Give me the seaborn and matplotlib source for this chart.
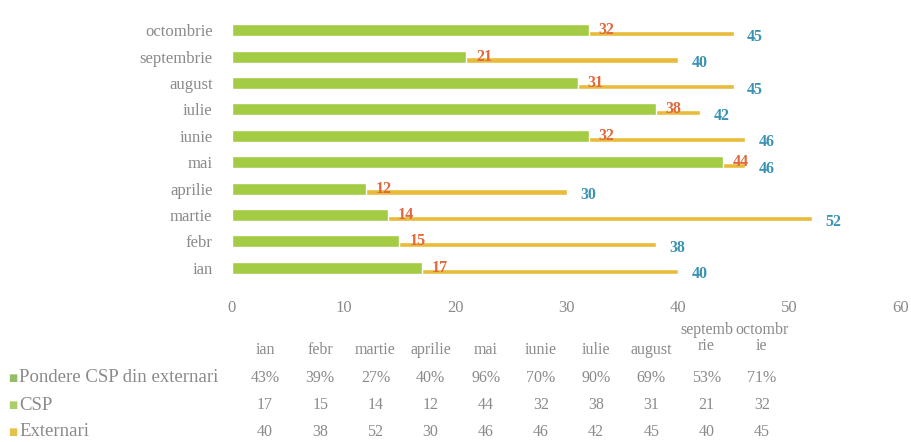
import matplotlib.pyplot as plt
import seaborn as sns
import pandas as pd

# Date
luni = ["ian", "febr", "martie", "aprilie", "mai", "iunie", "iulie",
        "august", "septembrie", "octombrie"]
luni_tabel = ["ian", "febr", "martie", "aprilie", "mai", "iunie", "iulie",
              "august", "septemb\nrie", "octombr\nie"]
csp = [17, 15, 14, 12, 44, 32, 38, 31, 21, 32]
externari = [40, 38, 52, 30, 46, 46, 42, 45, 40, 45]
pondere = [43, 39, 27, 40, 96, 70, 90, 69, 53, 71]

df = pd.DataFrame({"luna": luni, "CSP": csp, "Externari": externari})
order = luni[::-1]

green = "#a3cb44"
yellow = "#e8bc3a"
lbl_csp = "#e0683a"
lbl_ext = "#3b93b3"
grey = "#8a8a8a"
W, H = 911, 442

sns.set_style("white")
plt.rcParams["font.family"] = ["Liberation Serif", "DejaVu Serif"]

fig = plt.figure(figsize=(W / 100, H / 100), dpi=100)
ax = fig.add_axes([232 / W, 1 - 281 / H, 669 / W, 264 / H])

# externari (subtire, jos) sub bara CSP (groasa)
sns.barplot(data=df, y="luna", x="Externari", order=order, orient="h",
            width=0.2, color=yellow, saturation=1, ax=ax)
sns.barplot(data=df, y="luna", x="CSP", order=order, orient="h", width=0.46,
            color=green, saturation=1, ax=ax)
ext_bars, csp_bars = ax.containers[0], ax.containers[1]

for bar in ext_bars:
    bar.set_y(bar.get_y() + 0.13)

for bar in csp_bars:
    w = bar.get_width()
    ax.text(w + 0.9, bar.get_y() + bar.get_height() / 2, f"{w:.0f}",
            color=lbl_csp, fontsize=11.5, fontweight="bold", va="center", ha="left")
for bar in ext_bars:
    w = bar.get_width()
    ax.text(w + 1.2, bar.get_y() + bar.get_height() / 2 + 0.12, f"{w:.0f}",
            color=lbl_ext, fontsize=11.5, fontweight="bold", va="center", ha="left")

ax.set_xlim(0, 60)
ax.set_xticks(range(0, 61, 10))
ax.set_xlabel("")
ax.set_ylabel("")
ax.tick_params(axis="both", length=0, labelsize=12, labelcolor=grey)
ax.tick_params(axis="y", pad=14)
ax.tick_params(axis="x", pad=14)
sns.despine(ax=ax, left=True, bottom=True)

# tabelul de date de sub grafic
col0, step = 265, 55.2
for k, name in enumerate(luni_tabel):
    x = (col0 + k * step) / W
    yc = 338 if "\n" in name else 350
    fig.text(x, 1 - yc / H, name, ha="center", va="center", fontsize=11.5,
             color=grey, linespacing=1.0)
    fig.text(x, 1 - 378 / H, f"{pondere[k]}%", ha="center", va="center",
             fontsize=11.5, color=grey)
    fig.text(x, 1 - 405 / H, str(csp[k]), ha="center", va="center",
             fontsize=11.5, color=grey)
    fig.text(x, 1 - 432 / H, str(externari[k]), ha="center", va="center",
             fontsize=11.5, color=grey)

rows = [("Pondere CSP din externari", "#93bd68", 378),
        ("CSP", "#a8cf6a", 405),
        ("Externari", "#e4c24a", 432)]
for text, col, y in rows:
    fig.text(8 / W, 1 - y / H, "\u25a0", family="DejaVu Sans", fontsize=7,
             color=col, va="center", ha="left")
    fig.text(19 / W, 1 - y / H, text, fontsize=13.5, color=grey,
             va="center", ha="left")

fig.savefig("out.png", dpi=100)
